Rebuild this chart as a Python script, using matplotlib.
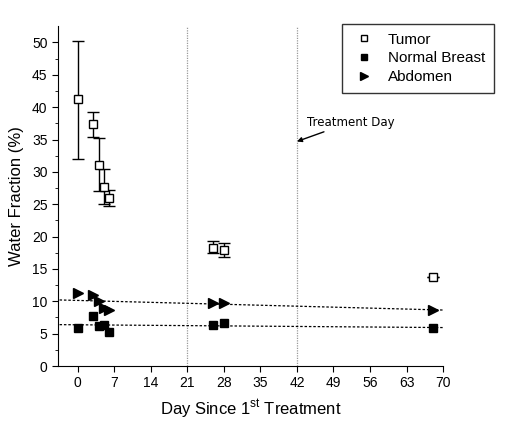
import numpy as np
import matplotlib.pyplot as plt

plt.rcParams["font.family"] = ["Liberation Sans", "DejaVu Sans"]

days = [0, 3, 4, 5, 6, 26, 28, 68]
tumor = [41.2, 37.4, 31.0, 27.7, 26.0, 18.3, 17.9, 13.8]
tumor_lo = [32.0, 35.4, 27.0, 25.0, 24.8, 17.5, 16.9, 13.8]
tumor_hi = [50.3, 39.3, 35.3, 30.5, 27.2, 19.3, 19.0, 13.8]
breast = [5.9, 7.8, 6.2, 6.3, 5.2, 6.3, 6.6, 5.8]
abdomen = [11.3, 10.9, 10.1, 9.0, 8.6, 9.7, 9.8, 8.7]
treatment_days = [21, 42]

fig = plt.figure(figsize=(5.1, 4.22), dpi=100)
ax = fig.add_axes([0.1137, 0.1327, 0.755, 0.805])

for d in treatment_days:
    ax.axvline(d, color="#999999", lw=0.9, ls=(0, (1, 1)), zorder=0)

x = np.array(days)
fit_x = np.array([-3.5, 70])
for y in (abdomen, breast):
    k, b = np.polyfit(x, y, 1)
    ax.plot(fit_x, k * fit_x + b, color="black", lw=0.9, ls=(0, (2, 1.5)), zorder=1)

t = np.array(tumor)
yerr = [t - np.array(tumor_lo), np.array(tumor_hi) - t]
h_t = ax.errorbar(days, tumor, yerr=yerr, fmt="s", mfc="white", mec="black", ms=6,
                  mew=1, ecolor="black", elinewidth=1, capsize=4, zorder=3)
h_b, = ax.plot(days, breast, "s", color="black", ms=6, zorder=3)
h_a, = ax.plot(days, abdomen, ">", color="black", ms=7, zorder=3)

ax.annotate("Treatment Day", xy=(42, 34.7), xytext=(44.0, 37.7),
            fontsize=8.5, family="DejaVu Sans", va="center", ha="left",
            arrowprops=dict(arrowstyle="-|>", color="black", lw=1, shrinkA=1, shrinkB=0,
                            mutation_scale=7))

ax.set_xlim(-3.8, 70)
ax.set_ylim(0, 52.5)
ax.set_xticks(np.arange(0, 71, 7))
ax.set_yticks(np.arange(0, 51, 5))
ax.set_yticks(np.arange(2.5, 52, 5), minor=True)
ax.tick_params(which="major", direction="out", length=4, labelsize=10)
ax.tick_params(which="minor", direction="out", length=2)
ax.spines["top"].set_visible(False)
ax.spines["right"].set_visible(False)
ax.set_xlabel("Day Since 1$^{\\mathregular{st}}$ Treatment", fontsize=12, labelpad=5)
ax.set_ylabel("Water Fraction (%)", fontsize=12, labelpad=6)

leg = fig.legend([h_t[0], h_b, h_a], ["Tumor", "Normal Breast", "Abdomen"],
                 loc="upper left", bbox_to_anchor=(0.656, 0.962),
                 fontsize=11, frameon=True, fancybox=False, edgecolor="black",
                 handletextpad=0.8, borderpad=0.6, labelspacing=0.3, handlelength=1.6,
                 markerscale=0.8)
leg.get_frame().set_linewidth(1)

fig.savefig("out.png", dpi=100)
